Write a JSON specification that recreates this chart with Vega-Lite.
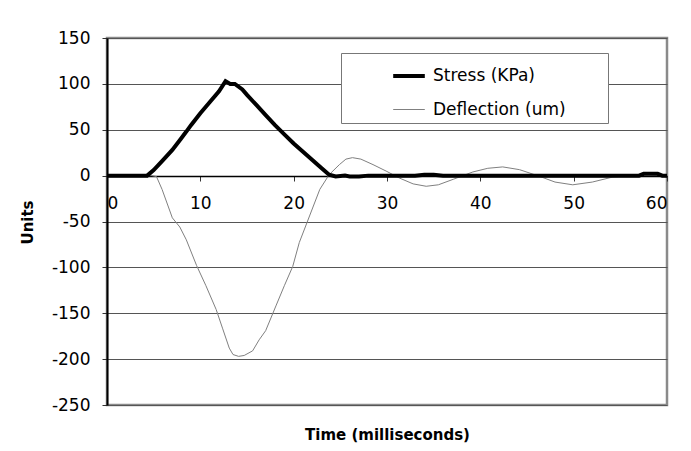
{
  "$schema": "https://vega.github.io/schema/vega-lite/v6.json",
  "autosize": {"type": "none"},
  "padding": {"left": 107, "top": 38, "right": 24, "bottom": 45},
  "width": 560,
  "height": 367,
  "background": "white",
  "config": {
    "font": "DejaVu Sans",
    "view": {"stroke": "#8a8a8a", "strokeWidth": 2.5}
  },
  "datasets": {
    "curves": [
      {"t": 0, "v": 0, "series": "Stress (KPa)"},
      {"t": 2, "v": 0, "series": "Stress (KPa)"},
      {"t": 4.3, "v": 0, "series": "Stress (KPa)"},
      {"t": 5, "v": 6, "series": "Stress (KPa)"},
      {"t": 6, "v": 17, "series": "Stress (KPa)"},
      {"t": 7, "v": 28, "series": "Stress (KPa)"},
      {"t": 7.9, "v": 40, "series": "Stress (KPa)"},
      {"t": 8.5, "v": 48, "series": "Stress (KPa)"},
      {"t": 9, "v": 55, "series": "Stress (KPa)"},
      {"t": 10, "v": 68, "series": "Stress (KPa)"},
      {"t": 11, "v": 80, "series": "Stress (KPa)"},
      {"t": 12, "v": 92, "series": "Stress (KPa)"},
      {"t": 12.7, "v": 103, "series": "Stress (KPa)"},
      {"t": 13.2, "v": 100, "series": "Stress (KPa)"},
      {"t": 13.7, "v": 100, "series": "Stress (KPa)"},
      {"t": 14.5, "v": 94, "series": "Stress (KPa)"},
      {"t": 15, "v": 88, "series": "Stress (KPa)"},
      {"t": 16, "v": 77, "series": "Stress (KPa)"},
      {"t": 17, "v": 66, "series": "Stress (KPa)"},
      {"t": 18, "v": 55, "series": "Stress (KPa)"},
      {"t": 19, "v": 45, "series": "Stress (KPa)"},
      {"t": 20, "v": 35, "series": "Stress (KPa)"},
      {"t": 21, "v": 26, "series": "Stress (KPa)"},
      {"t": 22, "v": 17, "series": "Stress (KPa)"},
      {"t": 23, "v": 8, "series": "Stress (KPa)"},
      {"t": 23.8, "v": 1, "series": "Stress (KPa)"},
      {"t": 24.5, "v": -1, "series": "Stress (KPa)"},
      {"t": 25.5, "v": 0, "series": "Stress (KPa)"},
      {"t": 26, "v": -1, "series": "Stress (KPa)"},
      {"t": 27, "v": -1, "series": "Stress (KPa)"},
      {"t": 28, "v": 0, "series": "Stress (KPa)"},
      {"t": 33, "v": 0, "series": "Stress (KPa)"},
      {"t": 34, "v": 1, "series": "Stress (KPa)"},
      {"t": 35, "v": 1, "series": "Stress (KPa)"},
      {"t": 36, "v": 0, "series": "Stress (KPa)"},
      {"t": 45, "v": 0, "series": "Stress (KPa)"},
      {"t": 57, "v": 0, "series": "Stress (KPa)"},
      {"t": 57.5, "v": 2, "series": "Stress (KPa)"},
      {"t": 59, "v": 2, "series": "Stress (KPa)"},
      {"t": 59.5, "v": 0, "series": "Stress (KPa)"},
      {"t": 60, "v": 0, "series": "Stress (KPa)"},
      {"t": 0, "v": 0, "series": "Deflection (um)"},
      {"t": 4.8, "v": 0, "series": "Deflection (um)"},
      {"t": 5.3, "v": -1, "series": "Deflection (um)"},
      {"t": 5.9, "v": -15, "series": "Deflection (um)"},
      {"t": 7.0, "v": -46, "series": "Deflection (um)"},
      {"t": 7.8, "v": -56, "series": "Deflection (um)"},
      {"t": 8.5, "v": -70, "series": "Deflection (um)"},
      {"t": 9.6, "v": -98, "series": "Deflection (um)"},
      {"t": 10.6, "v": -120, "series": "Deflection (um)"},
      {"t": 11.7, "v": -146, "series": "Deflection (um)"},
      {"t": 12.4, "v": -167, "series": "Deflection (um)"},
      {"t": 13.1, "v": -188, "series": "Deflection (um)"},
      {"t": 13.5, "v": -195, "series": "Deflection (um)"},
      {"t": 14.1, "v": -197, "series": "Deflection (um)"},
      {"t": 14.7, "v": -196, "series": "Deflection (um)"},
      {"t": 15.6, "v": -191, "series": "Deflection (um)"},
      {"t": 16.3, "v": -179, "series": "Deflection (um)"},
      {"t": 17.0, "v": -169, "series": "Deflection (um)"},
      {"t": 18.1, "v": -142, "series": "Deflection (um)"},
      {"t": 19.0, "v": -120, "series": "Deflection (um)"},
      {"t": 19.9, "v": -99, "series": "Deflection (um)"},
      {"t": 20.6, "v": -73, "series": "Deflection (um)"},
      {"t": 21.7, "v": -44, "series": "Deflection (um)"},
      {"t": 22.8, "v": -15, "series": "Deflection (um)"},
      {"t": 23.8, "v": 1, "series": "Deflection (um)"},
      {"t": 24.9, "v": 12, "series": "Deflection (um)"},
      {"t": 25.6, "v": 18, "series": "Deflection (um)"},
      {"t": 26.3, "v": 19.6, "series": "Deflection (um)"},
      {"t": 27.2, "v": 18, "series": "Deflection (um)"},
      {"t": 28.5, "v": 12, "series": "Deflection (um)"},
      {"t": 29.9, "v": 5, "series": "Deflection (um)"},
      {"t": 31.3, "v": -2.5, "series": "Deflection (um)"},
      {"t": 32.8, "v": -9, "series": "Deflection (um)"},
      {"t": 34.2, "v": -11.6, "series": "Deflection (um)"},
      {"t": 35.5, "v": -10, "series": "Deflection (um)"},
      {"t": 37.1, "v": -4, "series": "Deflection (um)"},
      {"t": 39.2, "v": 4, "series": "Deflection (um)"},
      {"t": 40.8, "v": 8, "series": "Deflection (um)"},
      {"t": 42.4, "v": 9.5, "series": "Deflection (um)"},
      {"t": 44.2, "v": 6.5, "series": "Deflection (um)"},
      {"t": 46.4, "v": -1, "series": "Deflection (um)"},
      {"t": 48, "v": -7, "series": "Deflection (um)"},
      {"t": 49.9, "v": -10, "series": "Deflection (um)"},
      {"t": 52, "v": -7, "series": "Deflection (um)"},
      {"t": 54.2, "v": -1.5, "series": "Deflection (um)"},
      {"t": 56, "v": 0, "series": "Deflection (um)"},
      {"t": 58, "v": 1, "series": "Deflection (um)"},
      {"t": 60, "v": 0, "series": "Deflection (um)"}
    ]
  },
  "data": {"name": "curves"},
  "encoding": {
    "x": {
      "field": "t", "type": "quantitative",
      "scale": {"domain": [0, 60], "nice": false},
      "axis": {
        "title": "Time (milliseconds)",
        "values": [0, 10, 20, 30, 40, 50, 60],
        "offset": -229,
        "grid": false,
        "domainColor": "#000", "domainWidth": 1.5,
        "tickColor": "#333", "tickSize": 5, "tickWidth": 1,
        "labelFont": "DejaVu Sans", "labelFontSize": 17, "labelColor": "#000",
        "labelPadding": 14,
        "titleFont": "DejaVu Sans", "titleFontSize": 15, "titleFontWeight": "bold", "titleColor": "#000",
        "titleY": 251, "titleBaseline": "top"
      }
    },
    "y": {
      "field": "v", "type": "quantitative",
      "scale": {"domain": [-250, 150], "nice": false},
      "axis": {
        "title": "Units",
        "values": [-250, -200, -150, -100, -50, 0, 50, 100, 150],
        "labelExpr": "toString(datum.value)",
        "grid": true, "gridColor": "#555", "gridWidth": 1,
        "domainColor": "#000", "domainWidth": 2,
        "tickColor": "#333", "tickSize": 5,
        "labelFont": "DejaVu Sans", "labelFontSize": 17, "labelColor": "#000",
        "labelPadding": 12,
        "titleFont": "DejaVu Sans", "titleFontSize": 15, "titleFontWeight": "bold", "titleColor": "#000",
        "titleX": -80, "titleY": 184, "titleBaseline": "middle", "titleAngle": -90
      }
    },
    "color": {
      "field": "series", "type": "nominal",
      "scale": {"domain": ["Stress (KPa)", "Deflection (um)"], "range": ["#000000", "#808080"]},
      "legend": {
        "orient": "none", "legendX": 234, "legendY": 15,
        "title": null,
        "symbolType": "stroke", "symbolSize": 1000, "symbolOffset": 45,
        "labelFont": "DejaVu Sans", "labelFontSize": 17, "labelColor": "#000",
        "labelOffset": 6, "labelLimit": 300,
        "labelExpr": "datum.label + '\u2800\u2800\u2800'",
        "rowPadding": 9,
        "padding": 5,
        "fillColor": "white", "strokeColor": "#777"
      }
    },
    "strokeWidth": {
      "field": "series", "type": "nominal",
      "scale": {"domain": ["Stress (KPa)", "Deflection (um)"], "range": [4, 1]},
      "legend": null
    }
  },
  "layer": [
    {
      "transform": [{"filter": "datum.series === 'Deflection (um)'"}],
      "mark": {"type": "line", "clip": true}
    },
    {
      "transform": [{"filter": "datum.series === 'Stress (KPa)'"}],
      "mark": {"type": "line", "clip": true}
    }
  ]
}
